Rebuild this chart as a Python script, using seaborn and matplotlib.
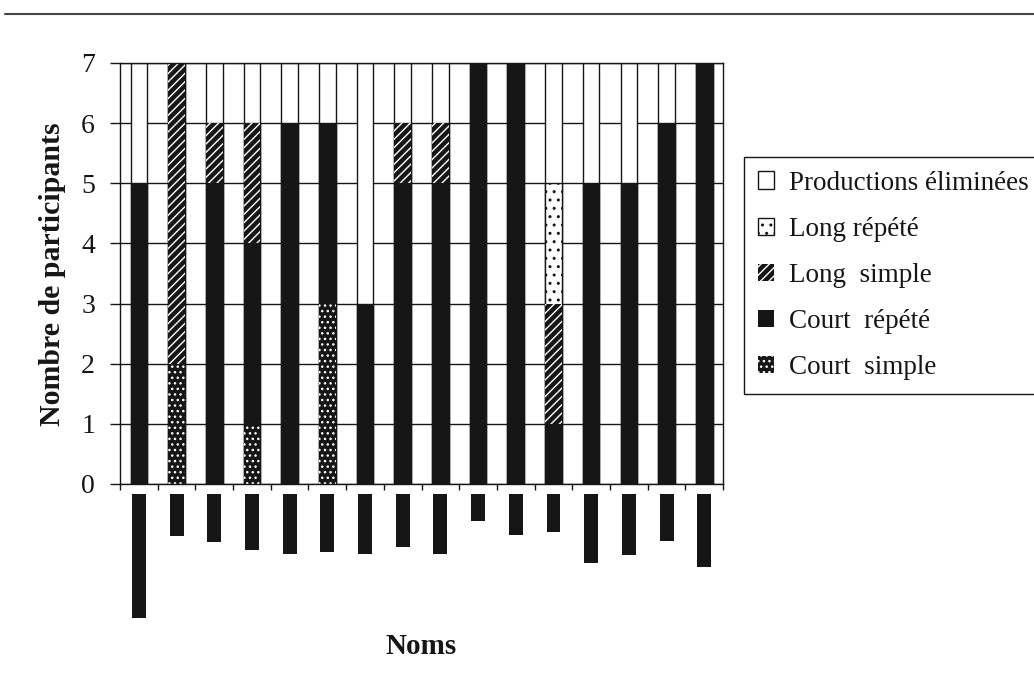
import numpy as np
import pandas as pd
import seaborn as sns
import matplotlib.pyplot as plt
from matplotlib.patches import Patch
from matplotlib.lines import Line2D

sns.set_theme(style="white")
plt.rcParams['font.family'] = ['Liberation Serif', 'DejaVu Serif']
plt.rcParams['hatch.linewidth'] = 1.0

INK = '#161616'

# 16 participants; the names are blacked out in the source, only the label lengths are left
participants = [f'P{i + 1}' for i in range(16)]
court_simple = [0, 2, 0, 1, 0, 3, 0, 0, 0, 0, 0, 0, 0, 0, 0, 0]
court_repete = [5, 0, 5, 3, 6, 3, 3, 5, 5, 7, 7, 1, 5, 5, 6, 7]
long_simple = [0, 5, 1, 2, 0, 0, 0, 1, 1, 0, 0, 2, 0, 0, 0, 0]
long_repete = [0, 0, 0, 0, 0, 0, 0, 0, 0, 0, 0, 2, 0, 0, 0, 0]
eliminees = [2, 0, 1, 1, 1, 1, 4, 1, 1, 0, 0, 2, 2, 2, 1, 0]
name_lengths = [124, 42, 48, 56, 60, 58, 60, 53, 60, 27, 41, 38, 69, 61, 47, 73]

df = pd.DataFrame({'participant': participants})
df['c1'] = np.array(court_simple)
df['c2'] = df['c1'] + np.array(court_repete)
df['c3'] = df['c2'] + np.array(long_simple)
df['c4'] = df['c3'] + np.array(long_repete)
df['c5'] = df['c4'] + np.array(eliminees)

fig = plt.figure(figsize=(10.34, 6.86), dpi=100)
ax = fig.add_axes([0.1161, 0.2945, 0.5832, 0.6137])

# stacked bars: draw the cumulative totals from the top layer down
layers = [
    ('c5', 'white', INK, '', 1.0, 'Productions éliminées'),
    ('c4', 'white', INK, '..', 1.0, 'Long répété'),
    ('c3', INK, 'white', '////', 0.0, 'Long  simple'),
    ('c2', INK, INK, '', 0.0, 'Court  répété'),
    ('c1', INK, 'white', '...', 0.0, 'Court  simple'),
]
handles = []
for col, face, edge, hatch, lw, label in layers:
    sns.barplot(data=df, x='participant', y=col, order=participants, color=face,
                saturation=1, edgecolor=edge, hatch=hatch, linewidth=lw,
                width=0.44, errorbar=None, ax=ax)
    handles.append(Patch(facecolor=face, edgecolor=edge if lw else ('white' if hatch else INK),
                         hatch=hatch, linewidth=1.0 if lw else 0.0, label=label))

ax.set_ylim(0, 7)
ax.set_yticks(range(8))
ax.set_xticks([])
ax.set_xticks(np.arange(-0.5, 16, 1), minor=True)
ax.set_xlabel('')
ax.set_ylabel('')
ax.yaxis.grid(True, color=INK, linewidth=1.0)
ax.set_axisbelow(True)
for s in ax.spines.values():
    s.set_color(INK)
    s.set_linewidth(1.0)
ax.tick_params(axis='y', left=True, length=7, width=1, color=INK, pad=11,
               labelsize=20, labelcolor=INK)
ax.tick_params(axis='x', which='minor', bottom=True, length=4, width=1,
               direction='out', color=INK)

fig.text(0.051, 0.6006, 'Nombre de participants', rotation=90, ha='center', va='center',
         fontsize=21.5, fontweight='bold', color=INK)

# blacked-out name labels under the axis
nax = fig.add_axes([0.1161, 0.0991, 0.5832, 0.1808])
sns.barplot(x=participants, y=name_lengths, order=participants, color=INK, saturation=1,
            width=0.37, linewidth=0, errorbar=None, ax=nax)
nax.set_xlim(ax.get_xlim())
nax.set_ylim(max(name_lengths), 0)
nax.axis('off')

fig.text(0.4072, 0.057, 'Noms', ha='center', va='center', fontsize=21,
         fontweight='bold', color=INK)

leg = fig.legend(handles=handles, loc='upper left', bbox_to_anchor=(0.7195, 0.771),
                 bbox_transform=fig.transFigure, borderaxespad=0, fontsize=19.5,
                 frameon=True, fancybox=False, framealpha=1, edgecolor=INK,
                 handlelength=0.6, handleheight=0.6, handletextpad=0.55,
                 labelspacing=0.78, borderpad=0.5)
leg.get_frame().set_linewidth(1.0)
for t in leg.get_texts():
    t.set_color(INK)

# page rule at the top of the scan
fig.add_artist(Line2D([0.005, 1.0], [0.9796, 0.9796], color='#444444', linewidth=1.5))

fig.savefig('out.png', dpi=100)
